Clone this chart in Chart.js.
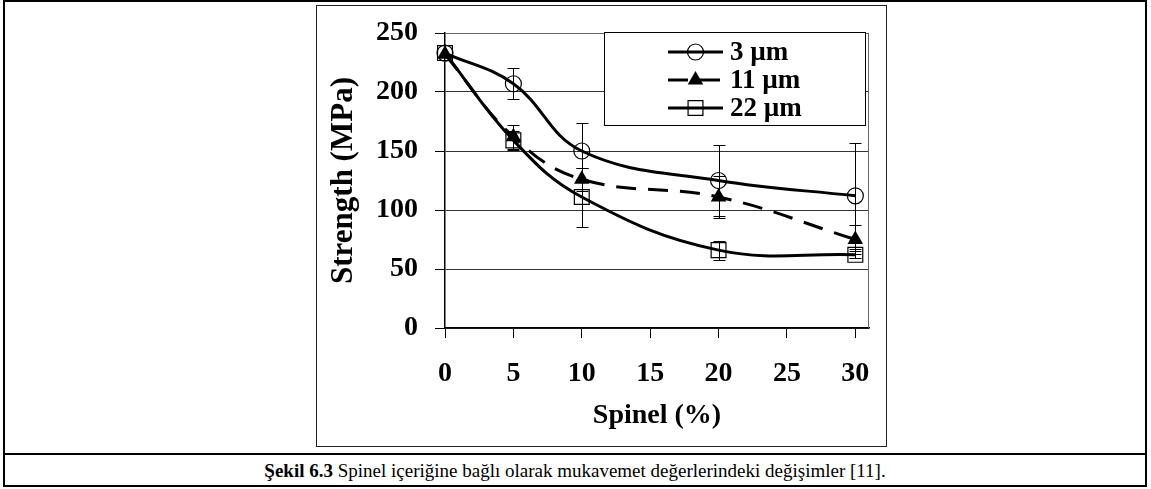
<!DOCTYPE html>
<html>
<head>
<meta charset="utf-8">
<script src="https://cdn.jsdelivr.net/npm/chart.js@4/dist/chart.umd.min.js"></script>
<style>
    html, body { margin: 0; padding: 0; background: #fff; }
    #sheet {
        position: absolute; left: 3px; top: 0; width: 1144px; height: 487px;
        box-sizing: border-box; border: 2px solid #000;
    }
    #frame {
        position: absolute; left: 316px; top: 5px; width: 571px; height: 442px;
        box-sizing: border-box; border: 1px solid #222;
    }
    #frame canvas { display: block; }
    #caption {
        position: absolute; left: 3px; top: 453px; width: 1144px; height: 34px;
        box-sizing: border-box; border-top: 2px solid #000;
        font-family: "Liberation Serif", serif; font-size: 19px;
        text-align: center; line-height: 31px;
    }
</style>
</head>
<body>
<div id="sheet"></div>
<div id="frame"><canvas id="strengthChart" width="569" height="440"></canvas></div>
<div id="caption"><b>Şekil 6.3</b> Spinel içeriğine bağlı olarak mukavemet değerlerindeki değişimler [11].</div>
<script>
// spinel content (%) and measured strength (MPa) with error half-widths
const spinel = [0, 5, 10, 20, 30];
const strength3 = [233, 207, 150, 125, 112];
const err3 = [0, 13, 24, 30, 45];
const strength11 = [232, 162, 126, 111, 75];
const err11 = [0, 10, 10, 18, 12];
const strength22 = [233, 159, 111, 66, 62];
const err22 = [0, 8, 25, 8, 3];
const seriesLabels = ["3 µm", "11 µm", "22 µm"];
const xTicks = [0, 5, 10, 15, 20, 25, 30];
const yTicks = [0, 50, 100, 150, 200, 250];

const serif = "'Liberation Serif', 'Times New Roman', serif";

function points(values) {
    return spinel.map((x, i) => ({ x, y: values[i] }));
}

function drawMarker(ctx, style, x, y, r) {
    ctx.beginPath();
    if (style === "circle") {
        ctx.arc(x, y, r, 0, Math.PI * 2);
        ctx.lineWidth = 1.2;
        ctx.stroke();
    } else if (style === "triangle") {
        ctx.moveTo(x, y - r);
        ctx.lineTo(x + r * 0.866, y + r * 0.5);
        ctx.lineTo(x - r * 0.866, y + r * 0.5);
        ctx.closePath();
        ctx.fill();
    } else {
        const s = r * 0.707;
        ctx.rect(x - s, y - s, 2 * s, 2 * s);
        ctx.lineWidth = 1.2;
        ctx.stroke();
    }
}

// vertical error bars with caps, under the curves
const errorBars = {
    id: "errorBars",
    beforeDatasetsDraw(chart) {
        const { ctx, scales: { x, y } } = chart;
        ctx.save();
        ctx.strokeStyle = "#000";
        ctx.lineWidth = 1;
        chart.data.datasets.forEach(ds => {
            ds.data.forEach((p, i) => {
                const e = ds.errors[i];
                if (!e) return;
                const px = Math.round(x.getPixelForValue(p.x)) + 0.5;
                const top = Math.round(y.getPixelForValue(p.y + e)) + 0.5;
                const bot = Math.round(y.getPixelForValue(p.y - e)) + 0.5;
                ctx.beginPath();
                ctx.moveTo(px, top); ctx.lineTo(px, bot);
                ctx.moveTo(px - 6, top); ctx.lineTo(px + 6, top);
                ctx.moveTo(px - 6, bot); ctx.lineTo(px + 6, bot);
                ctx.stroke();
            });
        });
        ctx.restore();
    }
};

// gray plot frame and the boxed legend
const decorations = {
    id: "decorations",
    beforeDatasetsDraw(chart) {
        const { ctx, chartArea: a } = chart;
        ctx.save();
        ctx.strokeStyle = "#666";
        ctx.lineWidth = 1;
        ctx.beginPath();
        ctx.moveTo(a.left, a.top + 0.5);
        ctx.lineTo(a.right - 0.5, a.top + 0.5);
        ctx.lineTo(a.right - 0.5, a.bottom);
        ctx.stroke();
        ctx.restore();
    },
    afterDraw(chart) {
        const { ctx, chartArea: a } = chart;
        const w = 261, h = 93;
        const left = Math.round(a.right - 4 - w), top = Math.round(a.top - 1);
        ctx.save();
        ctx.fillStyle = "#fff";
        ctx.fillRect(left, top, w, h);
        ctx.strokeStyle = "#000";
        ctx.lineWidth = 1;
        ctx.strokeRect(left + 0.5, top + 0.5, w, h);
        chart.data.datasets.forEach((ds, i) => {
            const cy = top + 20 + i * 28;
            const x0 = left + 64, x1 = left + 119;
            ctx.strokeStyle = "#000";
            ctx.fillStyle = "#000";
            ctx.lineWidth = ds.borderWidth;
            ctx.setLineDash(ds.borderDash || []);
            ctx.beginPath();
            ctx.moveTo(x0, cy); ctx.lineTo(x1, cy);
            ctx.stroke();
            ctx.setLineDash([]);
            drawMarker(ctx, ds.pointStyle, (x0 + x1) / 2, cy, ds.pointRadius);
            ctx.font = "bold 27px " + serif;
            ctx.textBaseline = "middle";
            ctx.textAlign = "left";
            ctx.fillText(ds.label, left + 126, cy + 1);
        });
        ctx.restore();
    }
};

const common = {
    borderColor: "#000",
    borderWidth: 3,
    tension: 0.4,
    fill: false,
    clip: false,
    pointBorderColor: "#000",
    pointBorderWidth: 1.2,
};

new Chart(document.getElementById("strengthChart"), {
    type: "line",
    data: {
        datasets: [
            {
                ...common, label: seriesLabels[0], data: points(strength3), errors: err3,
                pointStyle: "circle", pointRadius: 8, pointBackgroundColor: "rgba(0,0,0,0)"
            },
            {
                ...common, label: seriesLabels[1], data: points(strength11), errors: err11,
                borderDash: [20, 12],
                pointStyle: "triangle", pointRadius: 9, pointBackgroundColor: "#000", pointBorderWidth: 0
            },
            {
                ...common, label: seriesLabels[2], data: points(strength22), errors: err22,
                pointStyle: "rect", pointRadius: 10.5, pointBackgroundColor: "rgba(0,0,0,0)"
            },
        ],
    },
    options: {
        responsive: false,
        animation: false,
        devicePixelRatio: 1,
        layout: { padding: { top: 27, right: 17, left: 0, bottom: 0 } },
        plugins: {
            legend: { display: false },
            tooltip: { enabled: false },
        },
        scales: {
            x: {
                type: "linear",
                min: 0,
                max: 31,
                afterFit: scale => {
                    scale.height = 118;
                    scale.paddingLeft = 0;
                    scale.paddingRight = 0;
                },
                afterBuildTicks: scale => { scale.ticks = xTicks.map(v => ({ value: v })); },
                grid: { drawOnChartArea: false, drawTicks: true, tickLength: 10, tickColor: "#000", tickWidth: 1 },
                border: { color: "#000", width: 1.5 },
                ticks: {
                    color: "#000",
                    padding: 19,
                    maxRotation: 0,
                    font: { family: serif, size: 28, weight: "bold" },
                },
                title: {
                    display: true,
                    text: "Spinel (%)",
                    color: "#000",
                    padding: { top: 0, bottom: 13 },
                    font: { family: serif, size: 28, weight: "bold" },
                },
            },
            y: {
                min: 0,
                max: 250,
                afterFit: scale => {
                    scale.width = 128;
                    scale.paddingTop = 0;
                    scale.paddingBottom = 0;
                },
                afterBuildTicks: scale => { scale.ticks = yTicks.map(v => ({ value: v })); },
                grid: { color: "#333", lineWidth: 1, drawTicks: true, tickLength: 10, tickColor: "#000" },
                border: { color: "#000", width: 1.5 },
                ticks: {
                    color: "#000",
                    padding: 17,
                    font: { family: serif, size: 28, weight: "bold" },
                },
                title: {
                    display: true,
                    text: "Strength (MPa)",
                    color: "#000",
                    padding: { top: 8, bottom: 0 },
                    font: { family: serif, size: 31, weight: "bold" },
                },
            },
        },
    },
    plugins: [errorBars, decorations],
});
</script>
</body>
</html>
